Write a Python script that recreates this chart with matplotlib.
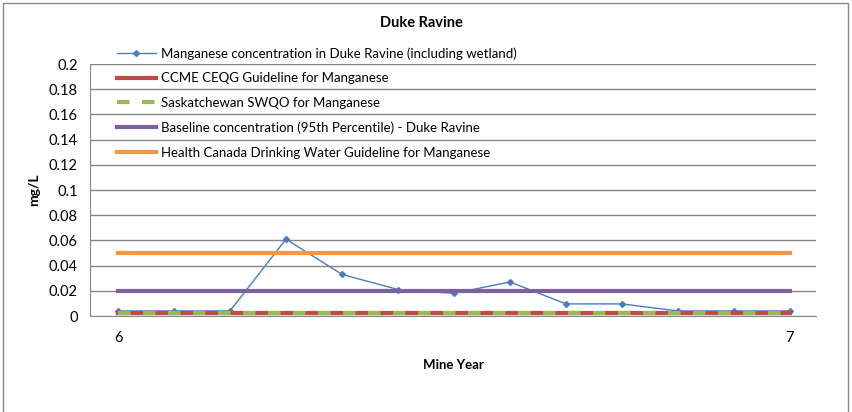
import matplotlib
matplotlib.use("Agg")
import matplotlib.pyplot as plt
from matplotlib.patches import Rectangle

plt.rcParams['font.family'] = ['Lato', 'DejaVu Sans']

# --- data ---
x_years = [6 + i / 12 for i in range(13)]
manganese = [0.004, 0.004, 0.004, 0.061, 0.033, 0.021, 0.018, 0.027,
             0.0096, 0.0096, 0.004, 0.004, 0.004]
ccme = 0.0027
sask_swqo = 0.0027
baseline = 0.0196
health_canada = 0.05

y_ticks = [0, 0.02, 0.04, 0.06, 0.08, 0.1, 0.12, 0.14, 0.16, 0.18, 0.2]
y_labels = ["0", "0.02", "0.04", "0.06", "0.08", "0.1", "0.12", "0.14", "0.16", "0.18", "0.2"]
x_ticks = [6, 7]

labels = [
    "Manganese concentration in Duke Ravine (including wetland)",
    "CCME CEQG Guideline for Manganese",
    "Saskatchewan SWQO for Manganese",
    "Baseline concentration (95th Percentile) - Duke Ravine",
    "Health Canada Drinking Water Guideline for Manganese",
]

W, H = 852, 412
fig = plt.figure(figsize=(W / 100, H / 100), dpi=100)
ax = fig.add_axes([90 / W, 1 - 316 / H, (816 - 90) / W, (316 - 64) / H])

n = len(x_years)
ax.plot(x_years, manganese, color='#4A7EBB', lw=1, marker='D', ms=3, label=labels[0], zorder=3)
ax.plot(x_years, [ccme] * n, color='#BE4B48', lw=3, label=labels[1], zorder=4)
ax.plot(x_years, [sask_swqo] * n, color='#98B954', lw=3, ls=(0, (3, 3)), label=labels[2], zorder=5)
ax.plot(x_years, [baseline] * n, color='#7D60A0', lw=3, label=labels[3], zorder=6)
ax.plot(x_years, [health_canada] * n, color='#F79646', lw=3, label=labels[4], zorder=7)

ax.set_xlim(6 - 28 / 672, 7 + 26 / 672)
ax.set_ylim(0, 0.2)
ax.set_yticks(y_ticks)
ax.set_yticklabels(y_labels)
ax.set_xticks(x_ticks)
ax.tick_params(axis='y', length=0, pad=9, labelsize=10.5)
ax.tick_params(axis='x', length=0, pad=11, labelsize=10.5)
ax.yaxis.grid(True, color='#868686', lw=1)
ax.set_axisbelow(True)
for s in ['top', 'right']:
    ax.spines[s].set_visible(False)
ax.spines['left'].set_color('#868686')
ax.spines['bottom'].set_color('#868686')

ax.set_xlabel("Mine Year", fontsize=9.5, fontweight='bold', labelpad=10)
ax.set_ylabel("mg/L", fontsize=10, fontweight='bold', labelpad=6)
fig.text(0.495, 1 - 23 / H, "Duke Ravine", ha='center', va='center', fontsize=10.5, fontweight='bold')

fig.legend(loc='upper left', bbox_to_anchor=(112 / W, 1 - 42 / H), frameon=False,
           fontsize=9.5, handlelength=2.9, handletextpad=0.38, labelspacing=0.95,
           borderaxespad=0)

# outer chart border
fig.patches.append(Rectangle((3 / W, -0.1), (848 - 3) / W, 1.1 - 3 / H,
                             transform=fig.transFigure, fill=False, ec='#868686', lw=1))

fig.savefig("out.png", dpi=100)
